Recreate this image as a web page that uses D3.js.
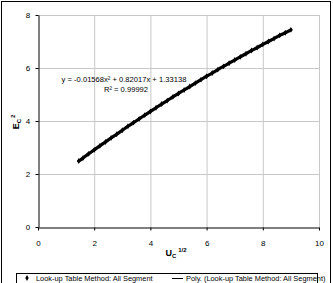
<!DOCTYPE html>
<html>
<head>
<meta charset="utf-8">
<script src="https://cdn.jsdelivr.net/npm/d3@7"></script>
<style>
body { margin: 0; background: #fff; }
svg { font-family: "Liberation Sans", Arial, sans-serif; }
</style>
</head>
<body>
<div id="chart"></div>
<script>
// values
var uVals = [1.45, 1.6, 1.8, 2.0, 2.2, 2.4, 2.6, 2.8, 3.0, 3.2, 3.4, 3.6, 3.8, 4.0, 4.2, 4.4, 4.6, 4.8, 5.0,
             5.2, 5.4, 5.6, 5.8, 6.0, 6.2, 6.4, 6.6, 6.8, 7.0, 7.2, 7.4, 7.6, 7.8, 8.0, 8.2, 8.4, 8.6, 8.8, 9.0];
var eVals = [2.49, 2.60, 2.76, 2.91, 3.06, 3.21, 3.36, 3.50, 3.65, 3.80, 3.94, 4.08, 4.22, 4.36, 4.50, 4.64, 4.77, 4.91, 5.04,
             5.17, 5.30, 5.43, 5.56, 5.69, 5.81, 5.94, 6.06, 6.18, 6.30, 6.42, 6.54, 6.66, 6.77, 6.89, 7.00, 7.11, 7.23, 7.33, 7.44];
var xTicks = [0, 2, 4, 6, 8, 10];
var yTicks = [0, 2, 4, 6, 8];
var eqText = "y = -0.01568x\u00b2 + 0.82017x + 1.33138";
var r2Text = "R\u00b2 = 0.99992";
var legendLabels = ["Look-up Table Method: All Segment", "Poly. (Look-up Table Method: All Segment)"];

var W = 333, H = 283;
var svg = d3.select("#chart").append("svg").attr("width", W).attr("height", H);

// outer frame
svg.append("rect").attr("x", 1.5).attr("y", 1.5).attr("width", 329).attr("height", 300)
    .attr("fill", "#fff").attr("stroke", "#000").attr("stroke-width", 1);

var x = d3.scaleLinear().domain([0, 10]).range([38, 319]);
var y = d3.scaleLinear().domain([0, 8]).range([227, 15]);

// gridlines
svg.append("g").selectAll("line.vg").data(xTicks.slice(1)).enter().append("line")
    .attr("x1", function(d) { return x(d) + 0.5; }).attr("x2", function(d) { return x(d) + 0.5; })
    .attr("y1", y(8)).attr("y2", y(0))
    .attr("stroke", "#c8c8c8").attr("stroke-width", 1);
svg.append("g").selectAll("line.hg").data(yTicks.slice(1)).enter().append("line")
    .attr("x1", x(0)).attr("x2", x(10))
    .attr("y1", function(d) { return y(d) + 0.5; }).attr("y2", function(d) { return y(d) + 0.5; })
    .attr("stroke", "#c8c8c8").attr("stroke-width", 1);

// axes
var xAxis = svg.append("g").attr("transform", "translate(0," + (y(0) + 0.5) + ")")
    .call(d3.axisBottom(x).tickValues(xTicks).tickSize(3).tickSizeOuter(0));
var yAxis = svg.append("g").attr("transform", "translate(" + (x(0) + 0.5) + ",0)")
    .call(d3.axisLeft(y).tickValues(yTicks).tickSize(3).tickSizeOuter(0));
[xAxis, yAxis].forEach(function(a) {
    a.select(".domain").attr("stroke", "#000");
    a.selectAll(".tick line").attr("stroke", "#000");
    a.selectAll("text").attr("font-size", 8).attr("fill", "#000")
        .attr("font-family", "Liberation Sans, Arial, sans-serif");
});
xAxis.selectAll("text").attr("dy", "1.5em");
yAxis.selectAll("text").attr("dx", "-0.3em");

// data
var pts = uVals.map(function(u, i) { return [u, eVals[i]]; });
var line = d3.line().x(function(d) { return x(d[0]); }).y(function(d) { return y(d[1]); }).curve(d3.curveMonotoneX);
svg.append("path").datum(pts).attr("d", line)
    .attr("fill", "none").attr("stroke", "#000").attr("stroke-width", 3.2).attr("stroke-linecap", "round");
svg.append("g").selectAll("path.pt").data(pts).enter().append("path")
    .attr("d", d3.symbol().type(d3.symbolDiamond).size(10))
    .attr("transform", function(d) { return "translate(" + x(d[0]) + "," + y(d[1]) + ")"; })
    .attr("fill", "#000");

// equation
svg.append("text").attr("x", 124).attr("y", 82).attr("text-anchor", "middle")
    .attr("font-size", 7.6).text(eqText);
svg.append("text").attr("x", 126).attr("y", 92).attr("text-anchor", "middle")
    .attr("font-size", 7.6).text(r2Text);

// axis titles
var yt = svg.append("text").attr("transform", "translate(19,122) rotate(-90)")
    .attr("text-anchor", "middle").attr("font-size", 9).attr("font-weight", "bold");
yt.append("tspan").text("E");
yt.append("tspan").attr("font-size", 6).attr("dy", 2).text("C");
yt.append("tspan").attr("font-size", 6).attr("dy", -6).attr("dx", 1).text("2");

var xt = svg.append("text").attr("x", 176).attr("y", 256)
    .attr("text-anchor", "middle").attr("font-size", 9).attr("font-weight", "bold");
xt.append("tspan").text("U");
xt.append("tspan").attr("font-size", 6).attr("dy", 2).text("C");
xt.append("tspan").attr("font-size", 6).attr("dy", -6).attr("dx", 2).text("1/2");

// legend
var lg = svg.append("g");
lg.append("rect").attr("x", 16.5).attr("y", 273.5).attr("width", 301).attr("height", 20)
    .attr("fill", "#fff").attr("stroke", "#000").attr("stroke-width", 1);
lg.append("path").attr("d", d3.symbol().type(d3.symbolDiamond).size(10))
    .attr("transform", "translate(27,278)").attr("fill", "#000");
lg.append("text").attr("x", 36).attr("y", 280.5).attr("font-size", 7.4).text(legendLabels[0]);
lg.append("line").attr("x1", 172).attr("x2", 183).attr("y1", 278.5).attr("y2", 278.5)
    .attr("stroke", "#000").attr("stroke-width", 1);
lg.append("text").attr("x", 186).attr("y", 280.5).attr("font-size", 7.4).text(legendLabels[1]);
</script>
</body>
</html>
